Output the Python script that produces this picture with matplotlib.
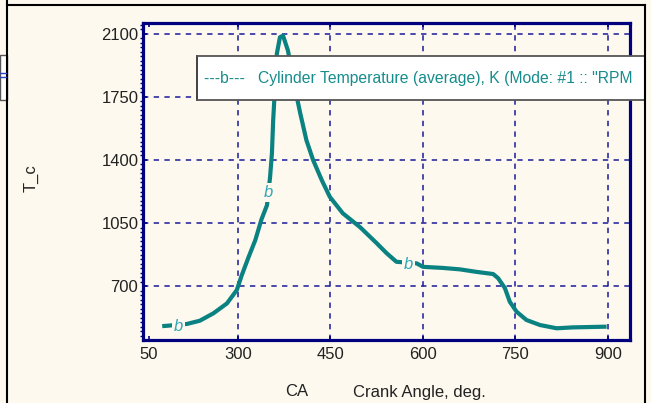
import matplotlib
matplotlib.use("Agg")
import matplotlib.pyplot as plt
from matplotlib.patches import Rectangle
from matplotlib.lines import Line2D
from matplotlib.ticker import MultipleLocator

# ---- data ----
ca = [177, 185, 217, 238, 260, 282, 298, 306, 317, 328, 338, 347, 352, 355, 357,
      360, 363, 368, 373, 381, 392, 401, 411, 422, 436, 449, 470, 498, 525, 541,
      557, 590, 600, 632, 660, 687, 714, 722, 733, 741, 752, 768, 790, 817, 843, 898]
tc = [478, 480, 490, 508, 549, 604, 678, 760, 860, 955, 1070, 1149, 1305, 1437, 1619,
      1804, 1990, 2081, 2090, 2007, 1804, 1658, 1509, 1398, 1287, 1195, 1104, 1027, 938, 883,
      835, 826, 807, 801, 793, 779, 767, 744, 689, 613, 558, 512, 484, 466, 471, 475]
marker_ca = [203, 350, 576]
marker_tc = [478, 1218, 822]
x_ticks = [155, 300, 450, 600, 750, 900]
x_tick_labels = ["50", "300", "450", "600", "750", "900"]
y_ticks = [700, 1050, 1400, 1750, 2100]
y_tick_labels = ["700", "1050", "1400", "1750", "2100"]
legend_text = '---b---   Cylinder Temperature (average), K (Mode: #1 :: "RPM'

W, H = 651, 403
BG = "#FDF9EE"
NAVY = "#00007F"
TEAL = "#0A8282"
FONT = "Liberation Sans"

def fx(px):
    return px / W

def fy(py):
    return 1 - py / H

fig = plt.figure(figsize=(W / 100, H / 100), dpi=100, facecolor=BG)

# window frame lines
fig.add_artist(Line2D([fx(7), fx(7)], [0, 1], color="black", lw=1.5))
fig.add_artist(Line2D([fx(7), fx(645)], [fy(5), fy(5)], color="black", lw=1.5))
fig.add_artist(Line2D([fx(645), fx(645)], [0, fy(5)], color="black", lw=1.5))
# little box of a neighbouring window at the left
fig.add_artist(Rectangle((0, fy(100)), fx(7), fy(55) - fy(100), facecolor="white",
                         edgecolor="#555555", lw=1))
fig.add_artist(Line2D([0, fx(6)], [fy(73), fy(73)], color="#3040C0", lw=1))
fig.add_artist(Line2D([0, fx(6)], [fy(77), fy(77)], color="#3040C0", lw=1))

# main axes
L, R, T, B = 142.5, 630, 23, 340
ax = fig.add_axes([fx(L), fy(B), fx(R) - fx(L), fy(T) - fy(B)])
ax.set_facecolor(BG)
ax.plot(ca, tc, color=TEAL, lw=3, solid_capstyle="butt", solid_joinstyle="round", zorder=3)
for mx, my in zip(marker_ca, marker_tc):
    ax.text(mx, my, "b", color="#33A6B8", fontsize=12, style="italic", family=FONT,
            ha="center", va="center", zorder=4,
            bbox=dict(facecolor=BG, edgecolor="none", pad=1.5))

ax.set_xlim(145, 936)
ax.set_ylim(401, 2160)
ax.set_xticks(x_ticks)
ax.set_xticklabels(x_tick_labels)
ax.set_yticks(y_ticks)
ax.set_yticklabels(y_tick_labels)
ax.yaxis.set_minor_locator(MultipleLocator(25))
ax.tick_params(axis="both", which="major", direction="in", length=3, width=1.2,
               color=NAVY, labelsize=12, labelcolor="#222222")
ax.tick_params(axis="x", pad=5, top=True)
ax.tick_params(axis="y", pad=3)
ax.tick_params(axis="y", which="minor", direction="out", length=2, width=1, color=NAVY)
for lab in ax.get_xticklabels() + ax.get_yticklabels():
    lab.set_family(FONT)
ax.grid(True, color="#1A1A9A", lw=1.1, linestyle=(0, (3.5, 3.5)))
ax.get_xgridlines()[0].set_visible(False)
for s in ax.spines.values():
    s.set_color(NAVY)
    s.set_linewidth(2.3)

# axis titles
fig.text(fx(31), fy(178), "T_c", rotation=90, ha="center", va="center",
         fontsize=12, family=FONT, color="#222222")
fig.text(fx(297), fy(392), "CA", ha="center", va="center", fontsize=12,
         family=FONT, color="#222222")
fig.text(fx(419), fy(392), "Crank Angle, deg.", ha="center", va="center",
         fontsize=12, family=FONT, color="#222222")

# legend box (its text is cut at the window edge, as in the reference)
lax = fig.add_axes([fx(197), fy(100), fx(645) - fx(197), fy(56) - fy(100)])
lax.set_facecolor("white")
lax.set_xticks([])
lax.set_yticks([])
lax.set_xlim(0, 1)
lax.set_ylim(0, 1)
lax.spines["right"].set_visible(False)
lax.spines["left"].set_color("#333333")
lax.spines["top"].set_color("#555555")
lax.spines["bottom"].set_color("#555555")
for s in ("left", "top", "bottom"):
    lax.spines[s].set_linewidth(1.3)
lax.text(7 / (645 - 197), 0.5, legend_text, color="#178C8C", fontsize=11.3,
         family=FONT, ha="left", va="center", clip_on=True)

fig.savefig("out.png", dpi=100, facecolor=BG)
